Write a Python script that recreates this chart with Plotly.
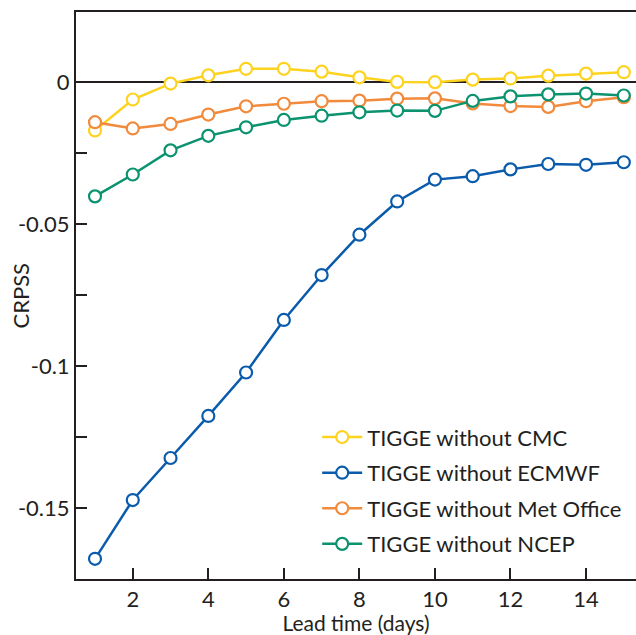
import plotly.graph_objects as go

lead_days = list(range(1, 16))

cmc = [-0.0171, -0.0062, -0.0006, 0.0023, 0.0046, 0.0046, 0.0036, 0.0016,
       0.0000, -0.0001, 0.0008, 0.0012, 0.0022, 0.0029, 0.0034]
ecmwf = [-0.1679, -0.1472, -0.1324, -0.1176, -0.1023, -0.0838, -0.0680, -0.0538,
         -0.0421, -0.0344, -0.0332, -0.0308, -0.0289, -0.0292, -0.0283]
metoffice = [-0.0142, -0.0164, -0.0148, -0.0115, -0.0086, -0.0077, -0.0068, -0.0066,
             -0.0059, -0.0058, -0.0076, -0.0085, -0.0088, -0.0068, -0.0054]
ncep = [-0.0403, -0.0326, -0.0241, -0.0190, -0.0160, -0.0134, -0.0119, -0.0107,
        -0.0101, -0.0102, -0.0067, -0.0051, -0.0044, -0.0041, -0.0048]

series_names = ["TIGGE without CMC", "TIGGE without ECMWF",
                "TIGGE without Met Office", "TIGGE without NCEP"]
series_values = [cmc, ecmwf, metoffice, ncep]
series_colors = ["#FDD31F", "#0A5BAC", "#F28A3B", "#0A936E"]

x_ticks = [2, 4, 6, 8, 10, 12, 14]
y_ticks = [0, -0.05, -0.1, -0.15]
y_ticklabels = ["0", "-0.05", "-0.1", "-0.15"]

FONT = "Lato"
TXT = "#231F20"

fig = go.Figure()
for name, vals, col in zip(series_names, series_values, series_colors):
    fig.add_trace(go.Scatter(
        x=lead_days, y=vals, name=name, mode="lines+markers",
        line=dict(color=col, width=2.5),
        marker=dict(symbol="circle", size=12, color="white",
                    line=dict(color=col, width=2.2)),
        legendgroup=name,
    ))

fig.update_layout(
    width=636, height=635,
    margin=dict(l=76, r=0, t=12, b=56),
    paper_bgcolor="white", plot_bgcolor="white",
    font=dict(family=FONT, size=22, color=TXT),
    showlegend=True,
    legend=dict(x=0.4307, y=0.287, xanchor="left", yanchor="top",
                bgcolor="rgba(0,0,0,0)", font=dict(size=22, family=FONT, color=TXT),
                traceorder="grouped", tracegroupgap=4, itemwidth=40),
)

fig.update_xaxes(
    range=[0.497, 15.323], tickmode="array", tickvals=x_ticks,
    ticks="inside", ticklen=11, tickwidth=2, tickcolor=TXT,
    showline=True, linewidth=2, linecolor=TXT, mirror=True,
    showgrid=False, zeroline=False,
    tickfont=dict(size=22, family=FONT, color=TXT),
    title=dict(text="Lead time (days)", font=dict(size=21, family=FONT, color=TXT), standoff=6),
)
fig.update_yaxes(
    range=[-0.175, 0.0246], tickmode="array", tickvals=y_ticks, ticktext=y_ticklabels,
    ticks="inside", ticklen=11, tickwidth=2, tickcolor=TXT,
    minor=dict(dtick=0.025, tick0=0, ticks="inside", ticklen=11, tickwidth=2, tickcolor=TXT),
    showline=True, linewidth=2, linecolor=TXT,
    showgrid=False, zeroline=True, zerolinecolor=TXT, zerolinewidth=1.6,
    tickfont=dict(size=22, family=FONT, color=TXT),
)

fig.add_annotation(
    text="CRPSS", xref="paper", yref="paper", x=-0.1, y=0.5,
    textangle=-90, showarrow=False, xanchor="center", yanchor="middle",
    font=dict(size=22, family=FONT, color=TXT),
)

fig.write_html("out.html")
